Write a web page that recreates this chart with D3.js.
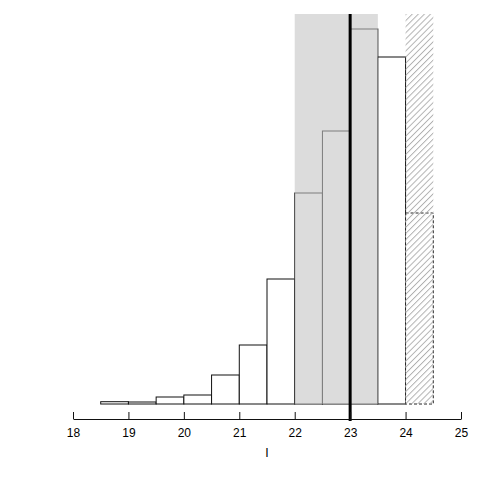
<!DOCTYPE html>
<html><head><meta charset="utf-8">
<script src="https://cdn.jsdelivr.net/npm/d3@7"></script>
<style>body{margin:0;background:#fff}svg{display:block}text{font-family:"Liberation Sans",Arial,sans-serif}</style>
</head><body>
<svg id="c" width="491" height="491"></svg>
<script>
// Data
const binStarts = [18.5, 19, 19.5, 20, 20.5, 21, 21.5, 22, 22.5, 23, 23.5];
const counts    = [2.3, 2, 7, 9, 29, 59, 125, 211, 273, 375, 347];
const extraBin = [24, 24.5];
const extraCount = 191;
const binWidth = 0.5;
const shadedRange = [22, 23.5];
const hatchRange = [24, 24.5];
const markerValue = 23;
const xTicks = [18, 19, 20, 21, 22, 23, 24, 25];
const xLabel = "l";

const svg = d3.select("#c");
const x = d3.scaleLinear().domain([18, 25]).range([73, 461]);
const y = d3.scaleLinear().domain([0, 390]).range([404, 14]);

const defs = svg.append("defs");
const pat = defs.append("pattern").attr("id", "hatch").attr("patternUnits", "userSpaceOnUse")
  .attr("width", 4.3).attr("height", 4.3).attr("patternTransform", "rotate(45)");
pat.append("line").attr("x1", 0.5).attr("y1", 0).attr("x2", 0.5).attr("y2", 4.3)
  .attr("stroke", "#ababab").attr("stroke-width", 0.9);

// bars
svg.append("g").selectAll("rect").data(binStarts).join("rect")
  .attr("x", (d) => x(d)).attr("width", (d) => x(d + binWidth) - x(d))
  .attr("y", (d, i) => y(counts[i])).attr("height", (d, i) => y(0) - y(counts[i]))
  .attr("fill", "#fff").attr("stroke", "#111").attr("stroke-width", 1);

// extra dashed bar
svg.append("rect")
  .attr("x", x(extraBin[0])).attr("width", x(extraBin[1]) - x(extraBin[0]))
  .attr("y", y(extraCount)).attr("height", y(0) - y(extraCount))
  .attr("fill", "#fff").attr("stroke", "#222").attr("stroke-width", 1).attr("stroke-dasharray", "3,2");

// shaded region
svg.append("rect")
  .attr("x", x(shadedRange[0])).attr("width", x(shadedRange[1]) - x(shadedRange[0]))
  .attr("y", y(390)).attr("height", y(0) - y(390))
  .attr("fill", "#c4c4c4").attr("fill-opacity", 0.6);

// hatched region
svg.append("rect")
  .attr("x", x(hatchRange[0])).attr("width", x(hatchRange[1]) - x(hatchRange[0]))
  .attr("y", y(390)).attr("height", y(0) - y(390))
  .attr("fill", "url(#hatch)");

// marker line
svg.append("line")
  .attr("x1", x(markerValue)).attr("x2", x(markerValue))
  .attr("y1", y(390)).attr("y2", 421)
  .attr("stroke", "#000").attr("stroke-width", 3);

// axis
const ax = svg.append("g").attr("transform", "translate(0,419)")
  .call(d3.axisBottom(x).tickValues(xTicks).tickFormat(d3.format("d"))
    .tickSizeInner(-7).tickSizeOuter(0).tickPadding(9.5));
ax.select(".domain").attr("stroke", "#111");
ax.selectAll(".tick line").attr("stroke", "#111");
ax.selectAll("text").attr("font-size", 12).attr("fill", "#000");

svg.append("text").attr("x", 267).attr("y", 457).attr("text-anchor", "middle")
  .attr("font-size", 13).attr("fill", "#000").text(xLabel);
</script>
</body></html>
